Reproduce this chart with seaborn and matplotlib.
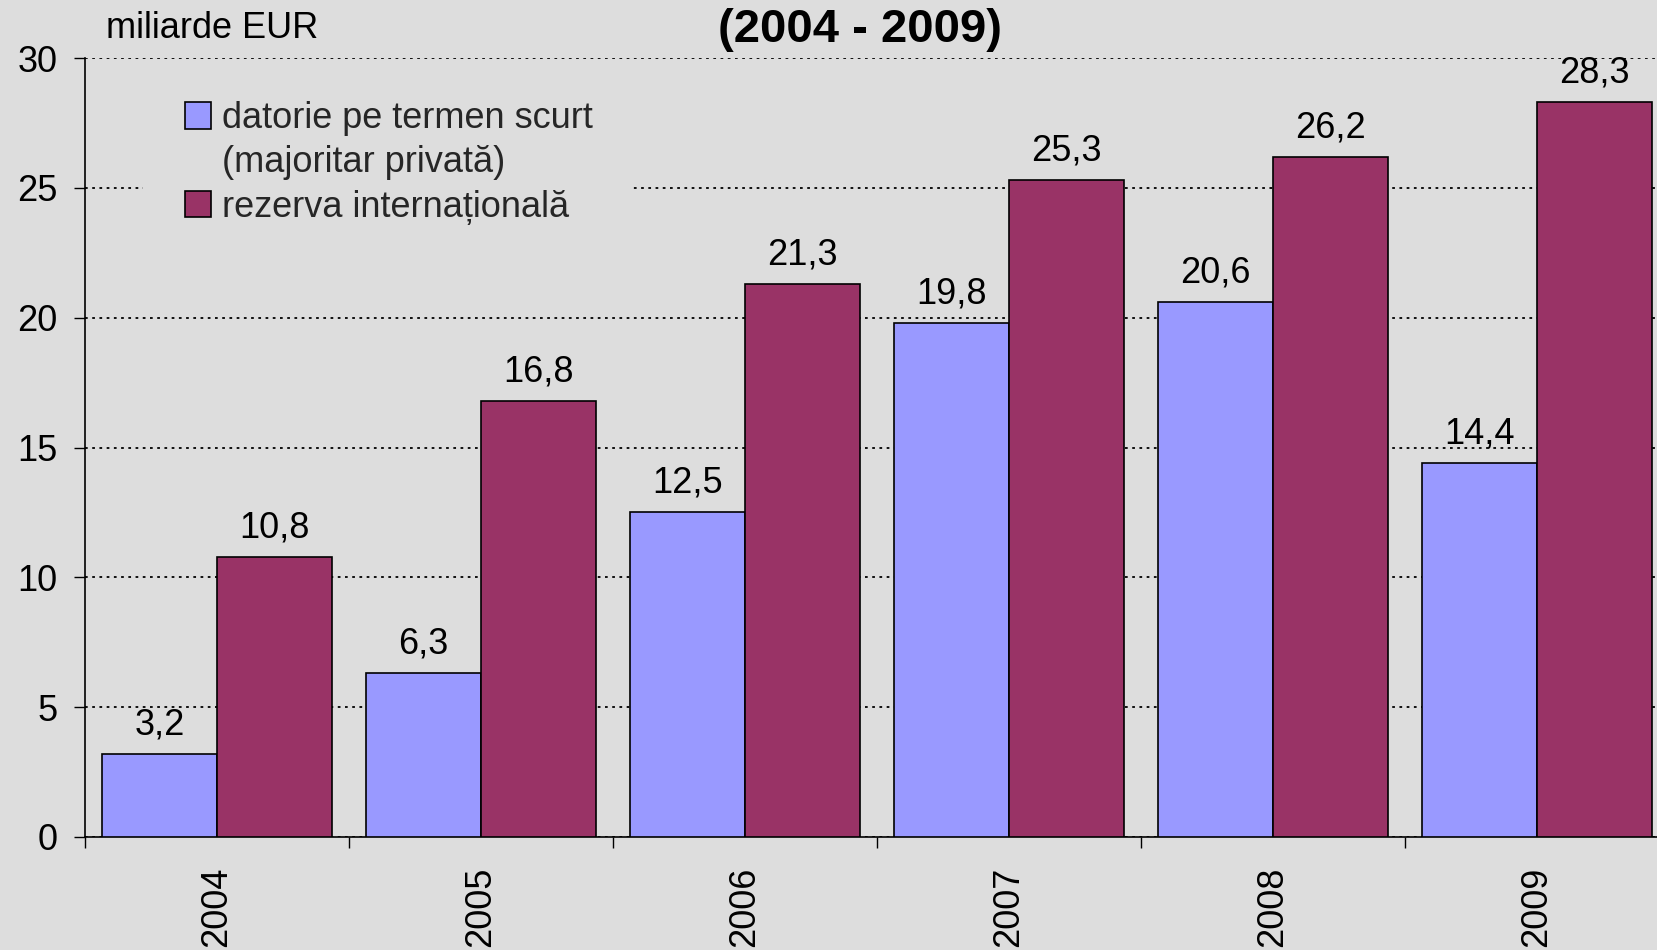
import numpy as np
import pandas as pd
import matplotlib
matplotlib.use("Agg")
import matplotlib.pyplot as plt
import seaborn as sns
from matplotlib.patches import Patch, Rectangle

years = ["2004", "2005", "2006", "2007", "2008", "2009"]
short_term_debt = [3.2, 6.3, 12.5, 19.8, 20.6, 14.4]
intl_reserve = [10.8, 16.8, 21.3, 25.3, 26.2, 28.3]
series_names = ["datorie pe termen scurt", "rezerva internațională"]
legend_second_line = "(majoritar privată)"
title_text = "(2004 - 2009)"
unit_text = "miliarde EUR"
y_ticks = [0, 5, 10, 15, 20, 25, 30]

BG = "#DDDDDD"
BLUE = "#9999FF"
MAROON = "#993366"

sns.set_theme(style="white")
plt.rcParams["font.family"] = ["Liberation Sans", "DejaVu Sans"]

df = pd.DataFrame({
    "year": years * 2,
    "value": short_term_debt + intl_reserve,
    "series": [series_names[0]] * len(years) + [series_names[1]] * len(years),
})

W, H = 1658, 950
fig = plt.figure(figsize=(W / 100, H / 100), dpi=100, facecolor=BG)
ax = fig.add_axes([85 / W, 1 - 837 / H, (1669 - 85) / W, (837 - 58) / H])
ax.set_facecolor(BG)

sns.barplot(data=df, x="year", y="value", hue="series", order=years,
            hue_order=series_names, palette=[BLUE, MAROON], width=0.868,
            edgecolor="black", linewidth=1.2, saturation=1, errorbar=None,
            legend=False, ax=ax, zorder=3)

# value labels
for cont in ax.containers:
    for bar in cont:
        v = bar.get_height()
        ax.annotate(f"{v:.1f}".replace(".", ","),
                    (bar.get_x() + bar.get_width() / 2, v),
                    xytext=(0, 14), textcoords="offset points",
                    ha="center", va="baseline", fontsize=26, color="black",
                    zorder=5)

ax.set_ylim(0, 30)
ax.set_xlim(-0.5, len(years) - 0.5)
ax.set_yticks(y_ticks)
ax.set_xlabel("")
ax.set_ylabel("")
ax.set_axisbelow(True)
ax.yaxis.grid(True, linestyle=(0, (1.5, 2.5)), color="black", linewidth=1.3)
ax.xaxis.grid(False)

ax.tick_params(axis="y", direction="out", length=8, width=1, color="black",
               pad=12, labelsize=26, left=True, labelcolor="black")
ax.set_xticks(range(len(years)))
ax.set_xticklabels(years, rotation=90, va="top", ha="center")
ax.tick_params(axis="x", which="major", length=0, pad=21, labelsize=26,
               labelcolor="black")
ax.set_xticks(np.arange(-0.5, len(years), 1), minor=True)
ax.tick_params(axis="x", which="minor", length=8, width=1, color="black",
               direction="out", bottom=True)

for s in ["top", "right"]:
    ax.spines[s].set_visible(False)
for s in ["left", "bottom"]:
    ax.spines[s].set_color("black")
    ax.spines[s].set_linewidth(1.2)

# background block behind legend (covers gridline)
ax.add_patch(Rectangle((143 / W, 1 - 236 / H), (631 - 143) / W, (236 - 150) / H,
                       transform=fig.transFigure, facecolor=BG, edgecolor="none",
                       zorder=1))

handles = [Patch(facecolor=BLUE, edgecolor="black", linewidth=1.2),
           Patch(facecolor="none", edgecolor="none"),
           Patch(facecolor=MAROON, edgecolor="black", linewidth=1.2)]
labels = [series_names[0], legend_second_line, series_names[1]]
fig.legend(handles, labels, loc="upper left", bbox_to_anchor=(185 / W, 1 - 101 / H),
           frameon=False, fontsize=26, handlelength=0.72, handleheight=0.75,
           handletextpad=0.3, labelspacing=0.26, borderpad=0, borderaxespad=0)

fig.text(860 / W, 1 - 42 / H, title_text, ha="center", va="baseline",
         fontsize=34, fontweight="bold", color="black")
fig.text(106 / W, 1 - 38 / H, unit_text, ha="left", va="baseline",
         fontsize=26, color="black")

fig.savefig("out.png", dpi=100, facecolor=BG)
